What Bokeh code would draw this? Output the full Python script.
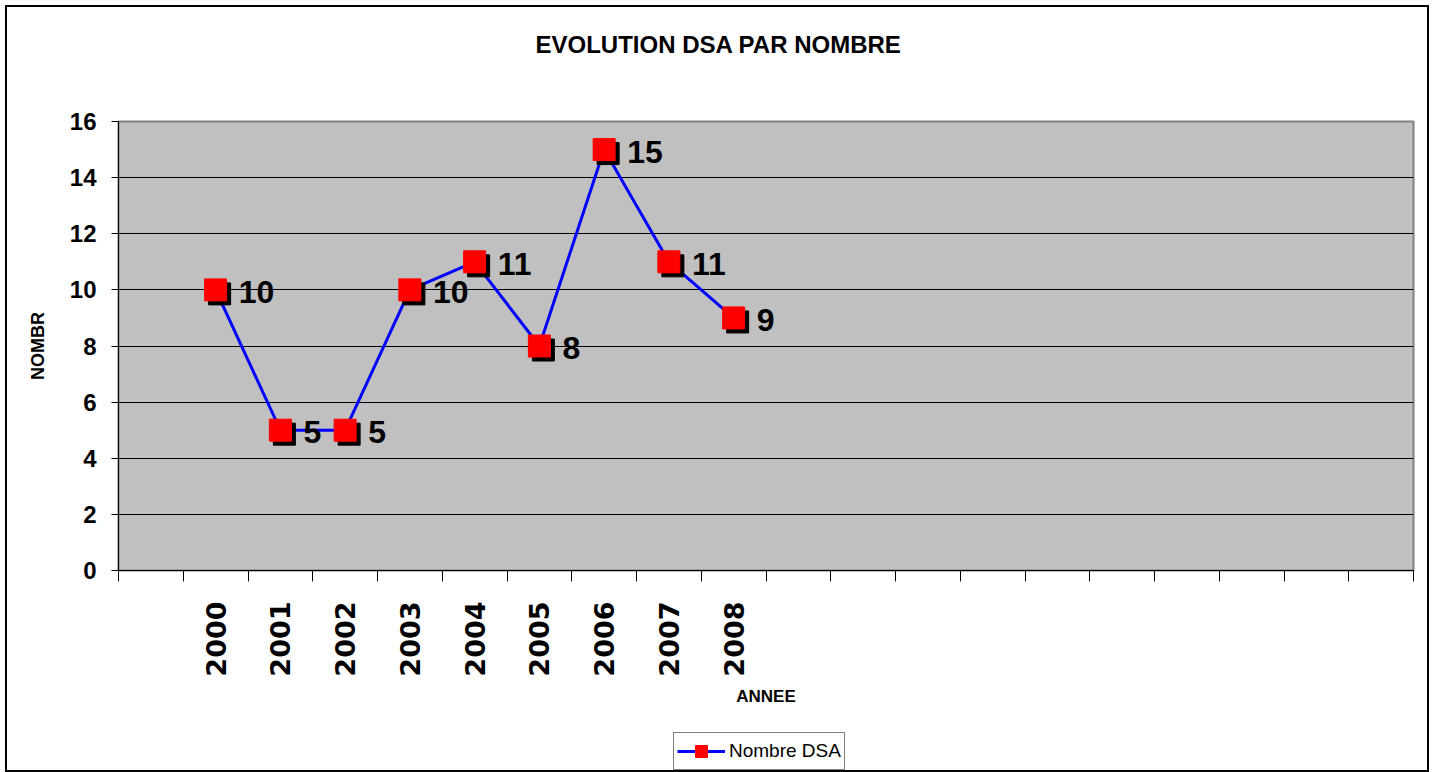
from bokeh.plotting import figure
from bokeh.models import (Range1d, FixedTicker, Legend, LegendItem, ColumnDataSource, Title)
from bokeh.layouts import column
from bokeh.core.properties import value
from bokeh.embed import file_html
from bokeh.resources import INLINE
import math

# ---- data ----
years = ["2000", "2001", "2002", "2003", "2004", "2005", "2006", "2007", "2008"]
counts = [10, 5, 5, 10, 11, 8, 15, 11, 9]
n_slots = 20          # category slots on the x axis (first slot empty)
first_slot = 1
y_ticks = [0, 2, 4, 6, 8, 10, 12, 14, 16]
series_name = "Nombre DSA"

FONT = "Liberation Sans"

xs = [first_slot + i + 0.5 for i in range(len(years))]
labels = [str(v) for v in counts]

p = figure(width=1420, height=713, frame_width=1295, frame_height=449,
           output_backend="svg", toolbar_location=None,
           x_range=Range1d(0, n_slots), y_range=Range1d(0, 16),
           min_border_left=111, min_border_right=14, min_border_top=114,
           min_border_bottom=150)

p.background_fill_color = "#C0C0C0"
p.border_fill_color = "white"
p.outline_line_color = "#808080"
p.outline_line_width = 2

# title: main title plus a blank spacer between it and the plot area
p.title.text = "EVOLUTION DSA PAR NOMBRE"
p.title.text_font = FONT
p.title.text_font_size = "24px"
p.title.text_font_style = "bold"
p.title.text_color = "black"
p.title.align = "left"
p.title.offset = 417
p.title.standoff = 0
spacer = Title(text=" ", text_font_size="10px", standoff=51)
p.add_layout(spacer, "above")

# grid
p.xgrid.visible = False
p.ygrid.ticker = FixedTicker(ticks=y_ticks)
p.ygrid.grid_line_color = "black"
p.ygrid.grid_line_width = 1

# y axis
ya = p.yaxis[0]
ya.ticker = FixedTicker(ticks=y_ticks)
ya.axis_line_color = "black"
ya.major_tick_line_color = "black"
ya.major_tick_out = 7
ya.major_tick_in = 0
ya.minor_tick_line_color = None
ya.major_label_text_font = FONT
ya.major_label_text_font_size = "24px"
ya.major_label_text_font_style = "bold"
ya.major_label_text_color = "black"
ya.major_label_standoff = 15
ya.axis_label = "NOMBR"
ya.axis_label_text_font = FONT
ya.axis_label_text_font_size = "18px"
ya.axis_label_text_font_style = "bold"
ya.axis_label_text_color = "black"
ya.axis_label_standoff = 19

# x axis
xa = p.xaxis[0]
xa.ticker = FixedTicker(ticks=xs, minor_ticks=list(range(n_slots + 1)))
xa.major_label_overrides = {x: y for x, y in zip(xs, years)}
xa.axis_line_color = "black"
xa.major_tick_line_color = None
xa.major_tick_out = 0
xa.major_tick_in = 0
xa.minor_tick_line_color = "black"
xa.minor_tick_out = 11
xa.minor_tick_in = 0
xa.major_label_orientation = math.pi / 2
xa.major_label_text_font = "DejaVu Sans"
xa.major_label_text_font_size = "27px"
xa.major_label_text_font_style = "bold"
xa.major_label_text_color = "black"
xa.major_label_standoff = 20
xa.axis_label = "ANNEE"
xa.axis_label_text_font = FONT
xa.axis_label_text_font_size = "17px"
xa.axis_label_text_font_style = "bold"
xa.axis_label_text_color = "black"
xa.axis_label_standoff = 7

src = ColumnDataSource(dict(x=xs, y=counts, label=labels))
# shadow offsets derived from the plot scale (approx 4 px)
sx = [x + 4 / 64.75 for x in xs]
sy = [y - 4 / 28.06 for y in counts]

p.line("x", "y", source=src, line_color="blue", line_width=3)
p.scatter(sx, sy, marker="square", size=22, fill_color="black", line_color="black")
p.scatter("x", "y", source=src, marker="square", size=22, fill_color="red", line_color="red")
p.text("x", "y", text="label", source=src, x_offset=23, y_offset=2,
       text_font=value(FONT), text_font_size="32px", text_font_style="bold",
       text_align="left", text_baseline="middle", text_color="black")

# ---- legend strip below the chart ----
lg = figure(width=1420, height=50, output_backend="svg", toolbar_location=None,
            x_range=Range1d(100, 101), y_range=Range1d(100, 101),
            x_axis_location=None, y_axis_location=None,
            min_border_left=0, min_border_right=0, min_border_top=0, min_border_bottom=0)
lg.grid.visible = False
lg.outline_line_color = None
lg.background_fill_color = "white"
lg.border_fill_color = "white"
# same series (outside the strip's ranges) so the legend shows its style
lr_line = lg.line("x", "y", source=src, line_color="blue", line_width=3)
lr_mark = lg.scatter("x", "y", source=src, marker="square", size=22,
                     fill_color="red", line_color="red")
legend = Legend(items=[LegendItem(label=series_name, renderers=[lr_line, lr_mark])],
                location=(555, 0), orientation="horizontal",
                border_line_color="black", border_line_width=1,
                background_fill_color="white", background_fill_alpha=1,
                label_text_font=FONT, label_text_font_size="19px",
                label_text_color="black",
                glyph_width=48, glyph_height=30, padding=3, spacing=0,
                label_standoff=4, margin=0)
lg.add_layout(legend, "center")

layout = column(p, lg, spacing=0)
layout.styles = {"margin": "5px 0px 0px 5px", "border": "2px solid black"}

open("out.html", "w").write(file_html(layout, INLINE))
